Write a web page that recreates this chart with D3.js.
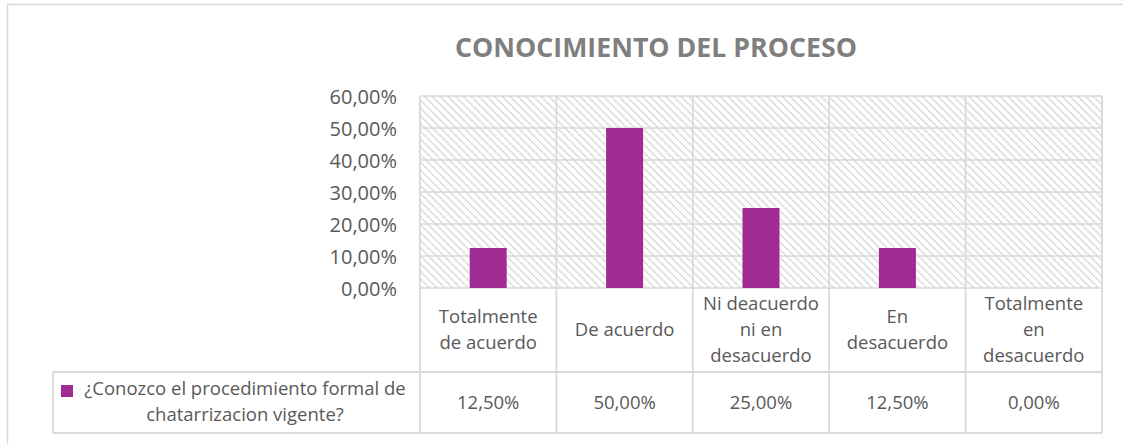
<!DOCTYPE html>
<html>
<head>
<meta charset="utf-8">
<script src="https://cdn.jsdelivr.net/npm/d3@7"></script>
<style>
  body { margin: 0; background: #fff; }
  svg { display: block; }
</style>
</head>
<body>
<svg id="chart" width="1123" height="444"></svg>
<script>
// data
const title = "CONOCIMIENTO DEL PROCESO";
const categories = ["Totalmente de acuerdo", "De acuerdo", "Ni deacuerdo ni en desacuerdo", "En desacuerdo", "Totalmente en desacuerdo"];
const catLines = [["Totalmente", "de acuerdo"], ["De acuerdo"], ["Ni deacuerdo", "ni en", "desacuerdo"], ["En", "desacuerdo"], ["Totalmente", "en", "desacuerdo"]];
const values = [0.125, 0.50, 0.25, 0.125, 0.0];
const yTicks = [0, 0.1, 0.2, 0.3, 0.4, 0.5, 0.6];
const seriesName = ["¿Conozco el procedimiento formal de", "chatarrizacion vigente?"];

const textColor = "#595959";
const lineColor = "#d9d9d9";
const barColor = "#a02b93";
const font = "'Open Sans', sans-serif";

const fmt = v => d3.format(".2%")(v).replace(".", ",");

const svg = d3.select("#chart");

const plot = {left: 420, right: 1102, top: 96, bottom: 288};
const row1 = {top: 288, bottom: 372};
const row2 = {top: 372, bottom: 433};
const legendLeft = 53;

const x = d3.scaleBand().domain(categories).range([plot.left, plot.right]).padding(0);
const y = d3.scaleLinear().domain([0, 0.6]).range([plot.bottom, plot.top]);

// hatch pattern for the plot background
const defs = svg.append("defs");
const pat = defs.append("pattern")
    .attr("id", "hatch")
    .attr("patternUnits", "userSpaceOnUse")
    .attr("width", 5.5)
    .attr("height", 5.5)
    .attr("patternTransform", "rotate(-45)");
pat.append("line")
    .attr("x1", 1).attr("y1", 0).attr("x2", 1).attr("y2", 5.5)
    .attr("stroke", "#d6d6d6")
    .attr("stroke-width", 1.8)
    .attr("stroke-dasharray", "2,1");

// outer frame
svg.append("rect")
    .attr("x", 7.5).attr("y", 4.5)
    .attr("width", 1200).attr("height", 500)
    .attr("fill", "none")
    .attr("stroke", lineColor)
    .attr("stroke-width", 1.5);

// title
svg.append("text")
    .attr("x", 656).attr("y", 57)
    .attr("text-anchor", "middle")
    .attr("font-family", "'Open Sans', sans-serif")
    .attr("font-weight", "bold")
    .attr("font-size", 27)
    .attr("textLength", 402)
    .attr("lengthAdjust", "spacingAndGlyphs")
    .attr("fill", "#7f7f7f")
    .text(title);

// plot background
svg.append("rect")
    .attr("x", plot.left).attr("y", plot.top)
    .attr("width", plot.right - plot.left).attr("height", plot.bottom - plot.top)
    .attr("fill", "url(#hatch)");

// horizontal gridlines
svg.append("g").selectAll("line")
    .data(yTicks).enter()
    .append("line")
        .attr("x1", plot.left).attr("x2", plot.right)
        .attr("y1", d => y(d)).attr("y2", d => y(d))
        .attr("stroke", lineColor)
        .attr("stroke-width", 1.5);

// y axis labels
const yAxis = svg.append("g")
    .attr("transform", `translate(${plot.left - 23},0)`)
    .call(d3.axisLeft(y).tickValues(yTicks).tickFormat(fmt).tickSize(0).tickPadding(0));
yAxis.select(".domain").remove();
yAxis.selectAll("text")
    .attr("text-anchor", "end")
    .attr("dy", "0.36em")
    .attr("font-family", font)
    .attr("font-size", 20)
    .attr("fill", textColor);

// bars
const barW = 37;
svg.append("g").selectAll("rect")
    .data(values).enter()
    .append("rect")
        .attr("x", (d, i) => x(categories[i]) + x.bandwidth() / 2 - barW / 2)
        .attr("y", d => y(d))
        .attr("width", barW)
        .attr("height", d => y(0) - y(d))
        .attr("fill", barColor);

// data table lines
const tbl = svg.append("g")
    .attr("stroke", lineColor)
    .attr("stroke-width", 1.8);
const edges = categories.map(c => x(c)).concat([plot.right]);
tbl.selectAll("line.v")
    .data(edges).enter()
    .append("line")
        .attr("x1", d => d).attr("x2", d => d)
        .attr("y1", plot.top).attr("y2", row2.bottom);
tbl.append("line")
    .attr("x1", plot.left).attr("x2", plot.right)
    .attr("y1", row1.bottom).attr("y2", row1.bottom);
tbl.append("line")
    .attr("x1", legendLeft).attr("x2", plot.left)
    .attr("y1", row2.top).attr("y2", row2.top);
tbl.append("line")
    .attr("x1", legendLeft).attr("x2", plot.right)
    .attr("y1", row2.bottom).attr("y2", row2.bottom);
tbl.append("line")
    .attr("x1", legendLeft).attr("x2", legendLeft)
    .attr("y1", row2.top).attr("y2", row2.bottom);

// category labels
const lineH = 26;
const tableSize = 18.5;
const cats = svg.append("g").selectAll("text")
    .data(catLines).enter()
    .append("text")
        .attr("x", (d, i) => x(categories[i]) + x.bandwidth() / 2)
        .attr("y", 336)
        .attr("text-anchor", "middle")
        .attr("font-family", font)
        .attr("font-size", tableSize)
        .attr("fill", textColor);
cats.selectAll("tspan")
    .data(d => d.map((t, j) => ({t: t, off: (j - (d.length - 1) / 2) * lineH})))
    .enter()
    .append("tspan")
        .attr("x", function () { return this.parentNode.getAttribute("x"); })
        .attr("y", d => 336 + d.off)
        .text(d => d.t);

// value row
svg.append("g").selectAll("text")
    .data(values).enter()
    .append("text")
        .attr("x", (d, i) => x(categories[i]) + x.bandwidth() / 2)
        .attr("y", 409)
        .attr("text-anchor", "middle")
        .attr("font-family", font)
        .attr("font-size", tableSize)
        .attr("fill", textColor)
        .text(d => fmt(d));

// legend key
svg.append("rect")
    .attr("x", 61).attr("y", 385)
    .attr("width", 12).attr("height", 12)
    .attr("fill", barColor);
const leg = svg.append("text")
    .attr("font-family", font)
    .attr("font-size", tableSize)
    .attr("fill", textColor)
    .attr("text-anchor", "middle");
leg.selectAll("tspan")
    .data(seriesName).enter()
    .append("tspan")
        .attr("x", 245)
        .attr("y", (d, i) => 395 + i * lineH)
        .text(d => d);
</script>
</body>
</html>
